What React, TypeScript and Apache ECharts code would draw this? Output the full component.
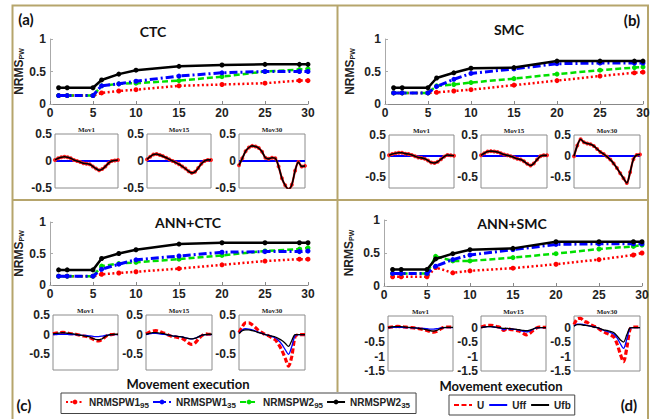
import React, { useEffect, useRef } from 'react';
import * as echarts from 'echarts';

// ---------- data ----------
const runs = [1, 2, 5, 6, 8, 10, 15, 20, 25, 29, 30];

// panel (a) CTC
const ctcW195 = [0.13, 0.13, 0.13, 0.17, 0.2, 0.22, 0.28, 0.3, 0.32, 0.36, 0.36];
const ctcW135 = [0.13, 0.13, 0.13, 0.28, 0.31, 0.35, 0.43, 0.48, 0.5, 0.5, 0.5];
const ctcW295 = [0.13, 0.13, 0.13, 0.28, 0.31, 0.32, 0.36, 0.42, 0.5, 0.53, 0.54];
const ctcW235 = [0.25, 0.25, 0.25, 0.37, 0.46, 0.52, 0.58, 0.6, 0.61, 0.61, 0.61];
// panel (b) SMC
const smcW195 = [0.17, 0.17, 0.17, 0.18, 0.2, 0.22, 0.29, 0.36, 0.43, 0.48, 0.49];
const smcW135 = [0.17, 0.17, 0.17, 0.27, 0.38, 0.47, 0.54, 0.62, 0.63, 0.63, 0.63];
const smcW295 = [0.17, 0.17, 0.17, 0.28, 0.3, 0.33, 0.39, 0.46, 0.52, 0.56, 0.57];
const smcW235 = [0.25, 0.25, 0.25, 0.4, 0.48, 0.55, 0.56, 0.66, 0.66, 0.66, 0.66];
// panel (c) ANN+CTC
const annCtcW195 = [0.14, 0.14, 0.14, 0.17, 0.19, 0.21, 0.26, 0.32, 0.38, 0.41, 0.41];
const annCtcW135 = [0.14, 0.14, 0.14, 0.25, 0.33, 0.4, 0.46, 0.52, 0.53, 0.53, 0.54];
const annCtcW295 = [0.14, 0.14, 0.14, 0.3, 0.34, 0.36, 0.41, 0.47, 0.54, 0.57, 0.59];
const annCtcW235 = [0.24, 0.24, 0.24, 0.42, 0.5, 0.56, 0.65, 0.67, 0.67, 0.67, 0.67];
// panel (d) ANN+SMC
const annSmcW195 = [0.14, 0.14, 0.14, 0.28, 0.2, 0.23, 0.27, 0.33, 0.4, 0.47, 0.5];
const annSmcW135 = [0.19, 0.19, 0.19, 0.3, 0.4, 0.47, 0.55, 0.63, 0.64, 0.64, 0.64];
const annSmcW295 = [0.19, 0.19, 0.19, 0.45, 0.38, 0.38, 0.43, 0.49, 0.56, 0.6, 0.62];
const annSmcW235 = [0.25, 0.25, 0.25, 0.41, 0.49, 0.55, 0.57, 0.67, 0.67, 0.67, 0.67];

// inset traces: sample position (% of movement)
const samplePct = [0, 5, 10, 15, 20, 25, 30, 35, 40, 45, 50, 55, 60, 65, 70, 75, 80, 85, 90, 95, 100];
const movNames = ['Mov1', 'Mov15', 'Mov30'];

const ctcMov1 = [0.02, 0.05, 0.07, 0.08, 0.07, 0.05, 0.02, 0.0, -0.02, -0.04, -0.05, -0.06, -0.1, -0.14, -0.17, -0.15, -0.1, -0.04, 0.0, 0.01, 0.02];
const ctcMov15 = [0.03, 0.08, 0.12, 0.13, 0.11, 0.09, 0.06, 0.03, 0.0, -0.03, -0.06, -0.1, -0.14, -0.19, -0.22, -0.2, -0.13, -0.05, 0.0, 0.02, 0.02];
const ctcMov30 = [-0.08, 0.05, 0.18, 0.25, 0.28, 0.27, 0.24, 0.17, 0.06, 0.04, 0.06, 0.05, -0.1, -0.32, -0.45, -0.52, -0.44, -0.18, -0.02, -0.1, -0.09];

const smcMov1 = [0.02, 0.05, 0.07, 0.08, 0.08, 0.06, 0.05, 0.03, 0.0, -0.03, -0.04, -0.06, -0.1, -0.15, -0.16, -0.13, -0.07, -0.01, 0.03, 0.02, 0.01];
const smcMov15 = [0.02, 0.07, 0.11, 0.12, 0.11, 0.1, 0.07, 0.04, 0.02, 0.0, -0.03, -0.06, -0.08, -0.12, -0.18, -0.22, -0.17, -0.08, 0.0, 0.02, 0.02];
const smcMov30 = [0.0, 0.25, 0.4, 0.33, 0.3, 0.28, 0.24, 0.17, 0.1, 0.05, -0.01, -0.08, -0.17, -0.28, -0.4, -0.52, -0.63, -0.38, -0.07, 0.03, 0.04];

const annCtcU1 = [0.02, 0.04, 0.05, 0.06, 0.05, 0.03, 0.02, 0.01, -0.01, -0.03, -0.04, -0.06, -0.1, -0.14, -0.16, -0.13, -0.06, -0.01, 0.0, 0.01, 0.01];
const annCtcUff1 = [0.0, 0.0, 0.01, 0.01, 0.01, 0.0, 0.0, 0.0, -0.01, -0.02, -0.02, -0.03, -0.04, -0.05, -0.05, -0.04, -0.02, -0.01, 0.0, 0.0, 0.0];
const annCtcUfb1 = [0.02, 0.03, 0.04, 0.05, 0.04, 0.03, 0.02, 0.01, -0.01, -0.02, -0.04, -0.05, -0.09, -0.12, -0.13, -0.11, -0.05, -0.01, 0.0, 0.01, 0.01];
const annCtcU15 = [0.02, 0.06, 0.09, 0.1, 0.08, 0.05, 0.03, -0.02, -0.05, -0.06, -0.08, -0.1, -0.15, -0.22, -0.25, -0.2, -0.1, -0.02, 0.02, 0.01, 0.01];
const annCtcUff15 = [0.0, 0.02, 0.03, 0.03, 0.02, 0.01, 0.0, -0.01, -0.03, -0.04, -0.05, -0.06, -0.08, -0.1, -0.11, -0.09, -0.05, -0.01, 0.0, 0.0, 0.0];
const annCtcUfb15 = [0.01, 0.03, 0.05, 0.05, 0.04, 0.03, 0.01, -0.01, -0.03, -0.04, -0.05, -0.06, -0.08, -0.1, -0.11, -0.09, -0.05, -0.01, 0.0, 0.01, 0.01];
const annCtcU30 = [0.05, 0.2, 0.3, 0.3, 0.25, 0.18, 0.1, 0.05, 0.0, -0.03, -0.08, -0.13, -0.25, -0.4, -0.6, -0.8, -0.55, -0.05, 0.0, 0.0, 0.0];
const annCtcUff30 = [0.03, 0.12, 0.15, 0.14, 0.12, 0.09, 0.06, 0.03, 0.0, -0.02, -0.05, -0.08, -0.15, -0.25, -0.38, -0.5, -0.3, -0.02, 0.0, 0.0, 0.0];
const annCtcUfb30 = [0.03, 0.1, 0.12, 0.12, 0.1, 0.08, 0.05, 0.03, 0.0, -0.02, -0.04, -0.06, -0.1, -0.15, -0.22, -0.3, -0.15, 0.0, 0.0, 0.0, 0.0];

const annSmcU1 = [0.0, 0.02, 0.03, 0.04, 0.03, 0.02, 0.01, 0.0, -0.01, -0.03, -0.05, -0.07, -0.1, -0.14, -0.16, -0.13, -0.06, 0.0, 0.02, 0.02, 0.01];
const annSmcUff1 = [0.0, 0.0, 0.01, 0.01, 0.01, 0.0, 0.0, 0.0, -0.01, -0.02, -0.03, -0.03, -0.04, -0.05, -0.05, -0.04, -0.02, 0.0, 0.0, 0.0, 0.0];
const annSmcUfb1 = [0.0, 0.02, 0.03, 0.03, 0.03, 0.02, 0.01, 0.0, -0.01, -0.02, -0.04, -0.05, -0.08, -0.11, -0.12, -0.1, -0.04, 0.0, 0.01, 0.01, 0.01];
const annSmcU15 = [0.02, 0.05, 0.08, 0.08, 0.06, 0.03, 0.0, -0.1, -0.03, -0.06, -0.08, -0.1, -0.13, -0.2, -0.25, -0.2, -0.1, -0.02, 0.02, 0.01, 0.01];
const annSmcUff15 = [0.0, 0.02, 0.03, 0.03, 0.02, 0.0, -0.02, -0.08, -0.03, -0.05, -0.06, -0.07, -0.1, -0.13, -0.15, -0.12, -0.06, -0.01, 0.0, 0.0, 0.0];
const annSmcUfb15 = [0.0, 0.02, 0.03, 0.03, 0.02, 0.01, -0.01, -0.03, -0.03, -0.04, -0.05, -0.06, -0.08, -0.1, -0.11, -0.09, -0.05, -0.01, 0.0, 0.0, 0.0];
const annSmcU30 = [0.1, 0.3, 0.32, 0.22, 0.18, 0.1, 0.05, 0.0, -0.08, -0.15, -0.2, -0.25, -0.32, -0.55, -0.9, -1.18, -0.7, -0.05, 0.02, 0.02, 0.02];
const annSmcUff30 = [0.05, 0.12, 0.12, 0.1, 0.08, 0.05, 0.02, 0.0, -0.05, -0.1, -0.13, -0.17, -0.22, -0.35, -0.55, -0.72, -0.4, -0.02, 0.0, 0.0, 0.0];
const annSmcUfb30 = [0.05, 0.1, 0.1, 0.08, 0.07, 0.05, 0.02, 0.0, -0.04, -0.08, -0.1, -0.13, -0.17, -0.28, -0.42, -0.5, -0.25, -0.01, 0.0, 0.0, 0.0];

const legendNames = ['NRMSPW1_95', 'NRMSPW1_35', 'NRMSPW2_95', 'NRMSPW2_35'];
const panelTitles = ['CTC', 'SMC', 'ANN+CTC', 'ANN+SMC'];
const panelTags = ['(a)', '(b)', '(c)', '(d)'];

// ---------- layout / style ----------
const FONT = "'Liberation Sans Narrow', 'Liberation Sans', Arial, sans-serif";
const TFONT = "Lato, 'Open Sans', sans-serif";
const FRAME = '#b6a56c';

type Box = { left: number; top: number; width: number; height: number };

const mainBoxes: Box[] = [
  { left: 50, top: 39, width: 258, height: 65 },
  { left: 385, top: 39, width: 258, height: 65 },
  { left: 50, top: 222, width: 258, height: 63 },
  { left: 384, top: 220, width: 258, height: 66 },
];
const nameGaps = [22, 29, 24, 29];
const smallBoxes: Box[][] = [
  [
    { left: 55, top: 134, width: 63, height: 54 },
    { left: 147, top: 134, width: 64, height: 54 },
    { left: 239, top: 134, width: 66, height: 54 },
  ],
  [
    { left: 389, top: 135, width: 65, height: 53 },
    { left: 481, top: 135, width: 66, height: 53 },
    { left: 574, top: 135, width: 66, height: 53 },
  ],
  [
    { left: 53, top: 315, width: 65, height: 55 },
    { left: 146, top: 315, width: 66, height: 55 },
    { left: 239, top: 315, width: 66, height: 55 },
  ],
  [
    { left: 388, top: 316, width: 65, height: 55 },
    { left: 481, top: 316, width: 65, height: 55 },
    { left: 574, top: 316, width: 66, height: 55 },
  ],
];
const smallRanges = [
  { min: -0.5, max: 0.5, interval: 0.5 },
  { min: -0.75, max: 0.5, interval: 0.25 },
  { min: -0.9, max: 0.5, interval: 0.1 },
  { min: -1.5, max: 0.4, interval: 0.1 },
];

const mainStyle: Record<string, { color: string; width: number; type: any; z: number }> = {
  NRMSPW1_95: { color: '#ff0000', width: 2.5, type: [2, 2.5], z: 2 },
  NRMSPW2_95: { color: '#00e000', width: 2.5, type: [6, 3], z: 3 },
  NRMSPW1_35: { color: '#0000ff', width: 3, type: [8, 3, 2, 3], z: 4 },
  NRMSPW2_35: { color: '#000000', width: 2.5, type: 'solid', z: 5 },
};

function buildOption() {
  const mainData = [
    { NRMSPW1_95: ctcW195, NRMSPW1_35: ctcW135, NRMSPW2_95: ctcW295, NRMSPW2_35: ctcW235 },
    { NRMSPW1_95: smcW195, NRMSPW1_35: smcW135, NRMSPW2_95: smcW295, NRMSPW2_35: smcW235 },
    { NRMSPW1_95: annCtcW195, NRMSPW1_35: annCtcW135, NRMSPW2_95: annCtcW295, NRMSPW2_35: annCtcW235 },
    { NRMSPW1_95: annSmcW195, NRMSPW1_35: annSmcW135, NRMSPW2_95: annSmcW295, NRMSPW2_35: annSmcW235 },
  ];
  const singleTraces = [
    [ctcMov1, ctcMov15, ctcMov30],
    [smcMov1, smcMov15, smcMov30],
  ];
  const tripleTraces = [
    [
      [annCtcU1, annCtcUff1, annCtcUfb1],
      [annCtcU15, annCtcUff15, annCtcUfb15],
      [annCtcU30, annCtcUff30, annCtcUfb30],
    ],
    [
      [annSmcU1, annSmcUff1, annSmcUfb1],
      [annSmcU15, annSmcUff15, annSmcUfb15],
      [annSmcU30, annSmcUff30, annSmcUfb30],
    ],
  ];

  const grid: any[] = [];
  const xAxis: any[] = [];
  const yAxis: any[] = [];
  const series: any[] = [];
  const graphic: any[] = [];

  const labelStyle = { color: '#222', fontWeight: 'bold', fontSize: 12, fontFamily: FONT };

  // main plots
  mainBoxes.forEach((b, p) => {
    const idx = grid.length;
    grid.push({ ...b });
    xAxis.push({
      gridIndex: idx, type: 'value', min: 0, max: 30, interval: 5,
      axisLine: { show: true, onZero: false, lineStyle: { color: '#888', width: 1 } },
      axisTick: { show: true, inside: true, length: 3, lineStyle: { color: '#888' } },
      axisLabel: { ...labelStyle, margin: 3 },
      splitLine: { show: false },
    });
    yAxis.push({
      gridIndex: idx, type: 'value', min: 0, max: 1, interval: 0.5,
      axisLine: { show: true, lineStyle: { color: '#aaa', width: 1 } },
      axisTick: { show: true, inside: true, length: 3, lineStyle: { color: '#aaa' } },
      axisLabel: { ...labelStyle, margin: 4 },
      splitLine: { show: false },
      name: '{m|NRMS}{s|PW}',
      nameLocation: 'middle', nameRotate: 90, nameGap: nameGaps[p],
      nameTextStyle: {
        rich: {
          m: { fontFamily: FONT, fontWeight: 'bold', fontSize: 12, color: '#222' },
          s: { fontFamily: FONT, fontWeight: 'bold', fontSize: 7, color: '#222', padding: [5, 0, 0, 0] },
        },
      },
    });
    ['NRMSPW1_95', 'NRMSPW2_95', 'NRMSPW1_35', 'NRMSPW2_35'].forEach((nm) => {
      const st = mainStyle[nm];
      const vals = (mainData[p] as any)[nm] as number[];
      series.push({
        type: 'line', name: nm, xAxisIndex: idx, yAxisIndex: idx, z: st.z,
        data: runs.map((r, k) => [r, vals[k]]),
        symbol: 'circle', symbolSize: 5, showSymbol: true,
        lineStyle: { color: st.color, width: st.width, type: st.type },
        itemStyle: { color: st.color },
      });
    });
  });

  // inset plots
  smallBoxes.forEach((row, p) => {
    const rg = smallRanges[p];
    row.forEach((b, m) => {
      const idx = grid.length;
      grid.push({ ...b, show: true, borderColor: '#8c8c8c', borderWidth: 1, backgroundColor: '#fff' });
      xAxis.push({
        gridIndex: idx, type: 'value', min: 0, max: 100,
        axisLine: { show: false }, axisTick: { show: false }, axisLabel: { show: false }, splitLine: { show: false },
      });
      yAxis.push({
        gridIndex: idx, type: 'value', min: rg.min, max: rg.max, interval: rg.interval,
        axisLine: { show: false }, axisTick: { show: false }, splitLine: { show: false },
        axisLabel: {
          ...labelStyle, margin: 3, showMinLabel: true, showMaxLabel: true,
          formatter: (v: number) => {
            const t = v * 2;
            if (Math.abs(t - Math.round(t)) > 1e-6) return '';
            const r = Math.round(v * 10) / 10;
            return r === 0 ? '0' : String(r);
          },
        },
      });
      if (p < 2) {
        const vals = singleTraces[p][m];
        series.push({
          type: 'line', name: 'trace', xAxisIndex: idx, yAxisIndex: idx, smooth: 0.3, z: 2,
          data: samplePct.map((x, k) => [x, vals[k]]),
          symbol: 'circle', symbolSize: 4, showSymbol: true,
          lineStyle: { color: '#ff2020', width: 2.2 }, itemStyle: { color: '#ff2020' },
          markLine: {
            silent: true, symbol: 'none', label: { show: false }, z: 1,
            lineStyle: { color: '#0000ff', width: 1.8, type: 'solid' },
            data: [{ yAxis: 0 }],
          },
        });
        series.push({
          type: 'line', name: 'trace', xAxisIndex: idx, yAxisIndex: idx, smooth: 0.3, z: 3,
          data: samplePct.map((x, k) => [x, vals[k]]),
          symbol: 'none', lineStyle: { color: '#000', width: 1.6 },
        });
      } else {
        const [u, uff, ufb] = tripleTraces[p - 2][m];
        series.push({
          type: 'line', name: 'U', xAxisIndex: idx, yAxisIndex: idx, smooth: 0.3,
          data: samplePct.map((x, k) => [x, u[k]]), symbol: 'none',
          lineStyle: { color: '#ff0000', width: 3.2, type: [5, 2.5] }, itemStyle: { color: '#ff0000' },
        });
        series.push({
          type: 'line', name: 'Uff', xAxisIndex: idx, yAxisIndex: idx, smooth: 0.3,
          data: samplePct.map((x, k) => [x, uff[k]]), symbol: 'none',
          lineStyle: { color: '#0000ff', width: 1.3 }, itemStyle: { color: '#0000ff' },
        });
        series.push({
          type: 'line', name: 'Ufb', xAxisIndex: idx, yAxisIndex: idx, smooth: 0.3,
          data: samplePct.map((x, k) => [x, ufb[k]]), symbol: 'none',
          lineStyle: { color: '#000', width: 1.3 }, itemStyle: { color: '#000' },
        });
      }
      graphic.push({
        type: 'text', x: b.left + b.width / 2, y: b.top - 4, z: 10,
        style: { text: movNames[m], fontFamily: "'Liberation Serif', 'DejaVu Serif', serif", fontWeight: 'bold', fontSize: 7, fill: '#222', align: 'center', verticalAlign: 'middle' },
      });
    });
  });

  // frame
  graphic.push(
    { type: 'rect', shape: { x: 12.5, y: 5.5, width: 635.5, height: 440 }, style: { fill: 'none', stroke: FRAME, lineWidth: 2 }, z: 0 },
    { type: 'line', shape: { x1: 12, y1: 200, x2: 648, y2: 200 }, style: { stroke: FRAME, lineWidth: 2 }, z: 0 },
    { type: 'line', shape: { x1: 337.5, y1: 5, x2: 337.5, y2: 392 }, style: { stroke: FRAME, lineWidth: 2 }, z: 0 },
  );
  // titles & tags
  const titlePos = [[153, 31], [509, 29], [188, 222], [512, 223]];
  panelTitles.forEach((t, i) => {
    graphic.push({ type: 'text', x: titlePos[i][0], y: titlePos[i][1], z: 10,
      style: { text: t, fontFamily: TFONT, fontWeight: 'bold', fontSize: 14, fill: '#111', align: 'center', verticalAlign: 'middle' } });
  });
  const tagPos = [[26, 19], [632, 20], [24, 405], [629, 405]];
  panelTags.forEach((t, i) => {
    graphic.push({ type: 'text', x: tagPos[i][0], y: tagPos[i][1], z: 10,
      style: { text: t, fontFamily: TFONT, fontWeight: 'bold', fontSize: 15, fill: '#111', align: 'center', verticalAlign: 'middle' } });
  });
  [[188, 384], [501, 386]].forEach(([x, y]) => {
    graphic.push({ type: 'text', x, y, z: 10,
      style: { text: 'Movement execution', fontFamily: TFONT, fontWeight: 'bold', fontSize: 13, fill: '#111', align: 'center', verticalAlign: 'middle' } });
  });

  const subMap: Record<string, string> = {
    NRMSPW1_95: 'NRMSPW1{s|95}', NRMSPW1_35: 'NRMSPW1{s|35}',
    NRMSPW2_95: 'NRMSPW2{s|95}', NRMSPW2_35: 'NRMSPW2{s|35}',
  };
  const legendText = {
    fontFamily: FONT, fontWeight: 'bold', fontSize: 10, color: '#222',
    rich: { s: { fontFamily: FONT, fontWeight: 'bold', fontSize: 8, color: '#222', padding: [7, 0, 0, 0] } },
  };

  return {
    animation: false,
    backgroundColor: '#fff',
    grid, xAxis, yAxis, series, graphic,
    legend: [
      {
        data: legendNames, left: 61, top: 393, orient: 'horizontal',
        itemWidth: 18, itemHeight: 6, itemGap: 3,
        padding: [4, 6, 4, 4], borderColor: '#444', borderWidth: 1, backgroundColor: '#fff',
        formatter: (n: string) => subMap[n] || n,
        textStyle: legendText, selectedMode: false,
      },
      {
        data: ['U', 'Uff', 'Ufb'], left: 449, top: 395, orient: 'horizontal',
        itemWidth: 18, itemHeight: 8, itemGap: 4,
        padding: [5, 4, 5, 4], borderColor: '#444', borderWidth: 1, backgroundColor: '#fff',
        itemStyle: { opacity: 0 },
        textStyle: { fontFamily: FONT, fontWeight: 'bold', fontSize: 10, color: '#222' }, selectedMode: false,
      },
    ],
  };
}

export default function App() {
  const ref = useRef<HTMLDivElement>(null);
  useEffect(() => {
    const chart = echarts.init(ref.current!, null, { renderer: 'svg' });
    chart.setOption(buildOption() as any);
    return () => chart.dispose();
  }, []);
  return (
    <div
      ref={ref}
      style={{ position: 'absolute', left: 0, top: 0, width: 655, height: 419, background: '#fff' }}
    />
  );
}
